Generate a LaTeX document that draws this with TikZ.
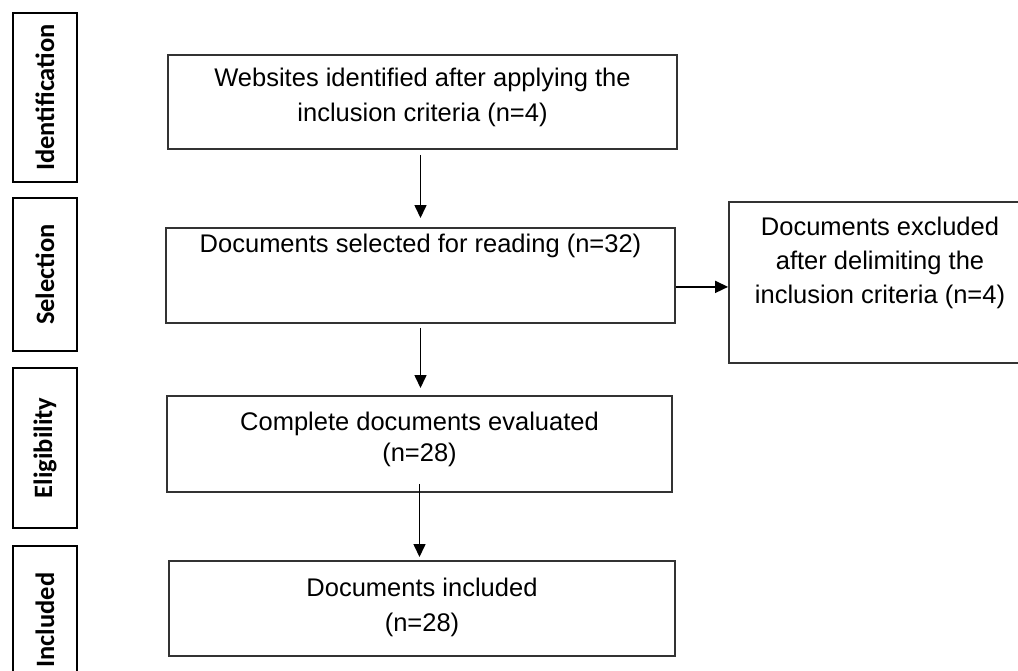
\documentclass[tikz,border=0pt]{standalone}
\usepackage{fontspec}
\setmainfont{Liberation Sans}
\newfontfamily\phasefont{Carlito}
\usetikzlibrary{arrows.meta}

\begin{document}
\begin{tikzpicture}[
    x = 1pt, y = -1pt,
    >= {Triangle[length = 13pt, width = 12pt]},
    box/.style = {draw = black!80,
      line width = 1.8pt,
      rectangle, anchor = north,
      align = center, inner sep = 0pt,
      font = \fontsize{25.5}{35}\selectfont},
    phase/.style = {draw,
      line width = 2.8pt,
      rotate = 90, minimum height = 64pt,
      font = \phasefont\bfseries\fontsize{26.5}{30}\selectfont},
    link/.style = {line width = 1.6pt},
    ]

    \useasboundingbox (0, 0) rectangle (1018, 670);

    \node at (45, 97.5)
    [phase, minimum width = 169pt, name = S_ident] {Identification};
    \node at (45, 274.5)
    [phase, minimum width = 153pt, name = S_select] {Selection};
    \node at (45, 448)
    [phase, minimum width = 160pt, name = S_elig] {Eligibility};
    \node at (45, 620)
    [phase, minimum width = 148pt, name = S_incl] {Included};

    \node at (422.5, 54)
    [box, minimum width = 509pt, text height = 67pt, text depth = 27pt,
    name = B_web] {Websites identified after applying the\\inclusion criteria (n=4)};

    \node at (420.5, 227)
    [box, minimum width = 509pt, text height = 25pt, text depth = 70pt,
    name = B_sel] {Documents selected for reading (n=32)};

    \node at (880, 201)
    [box, minimum width = 302pt, text height = 102pt, text depth = 59pt,
    name = B_exc] {Documents excluded\\[-1pt]after delimiting the\\[-1pt]inclusion criteria (n=4)};

    \node at (419.5, 395)
    [box, minimum width = 505pt, text height = 66pt, text depth = 30pt,
    name = B_eval] {Complete documents evaluated\\[-4pt](n=28)};

    \node at (422, 560)
    [box, minimum width = 506pt, text height = 71pt, text depth = 24pt,
    name = B_incl] {Documents included\\(n=28)};

    \draw [->, link, shorten < = 5pt, shorten > = 9pt]
    (B_sel.north |- B_web.south) to (B_sel.north);
    \draw [->, link, shorten < = 4pt, shorten > = 7pt]
    (B_sel.south) to (B_sel.south |- B_eval.north);
    \draw [->, link, shorten < = -9pt, shorten > = 3pt]
    (B_eval.south) to (B_eval.south |- B_incl.north);

    \coordinate (c_out) at ([yshift = -11.5pt] B_sel.east);
    \draw [->, link] (c_out) to (c_out -| B_exc.west);
  \end{tikzpicture}
\end{document}
